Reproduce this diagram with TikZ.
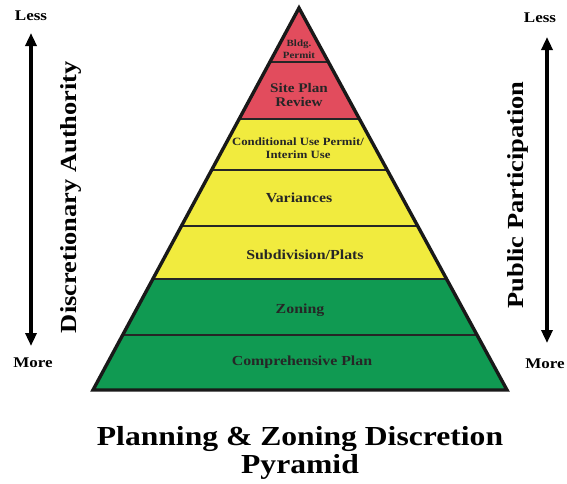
\documentclass[tikz,border=0pt]{standalone}
\usepackage{fontspec}
\setmainfont{Liberation Serif}[FakeStretch=1.15]
\usetikzlibrary{arrows.meta,calc}
\definecolor{pred}{HTML}{E24C5D}
\definecolor{pyel}{HTML}{F1EB3E}
\definecolor{pgrn}{HTML}{109A52}
\newcommand{\fsz}[1]{\fontsize{#1}{#1}\selectfont}
\tikzset{
  lbl/.style={font=\bfseries\fsz{13.8}, align=center, inner sep=0pt, text=black!85},
  side/.style={font=\bfseries\fsz{14.8}, inner sep=0pt},
  vert/.style={font=\bfseries\fsz{23}, rotate=90, inner sep=0pt},
  band/.style={line width=1.2pt, black!85},
  dbl/.style={line width=3.2pt, {Triangle[width=11pt,length=13pt]}-{Triangle[width=11pt,length=13pt]}}
}
\begin{document}
\begin{tikzpicture}[x=1pt,y=-1pt]
\useasboundingbox (0,0) rectangle (567,483);
\coordinate (apex) at (299,8);
\coordinate (bl) at (93,390);
\coordinate (br) at (507,390);
\begin{scope}
  \clip (apex) -- (br) -- (bl) -- cycle;
  \fill[pred] (0,0) rectangle (567,119);
  \fill[pyel] (0,119) rectangle (567,279);
  \fill[pgrn] (0,279) rectangle (567,395);
  \foreach \y in {62,119,170,226,279,335}
    \draw[band] (0,\y) -- (567,\y);
\end{scope}
\draw[line width=3.4pt, line join=miter, black!90] (apex) -- (br) -- (bl) -- cycle;

\node[lbl, font=\bfseries\fontsize{9.5}{12}\selectfont] (bldg) at (299,49) {Bldg.\\Permit};
\node[lbl, font=\bfseries\fontsize{13.2}{14.5}\selectfont] (site) at (299,95) {Site Plan\\Review};
\node[lbl, font=\bfseries\fontsize{11.1}{13}\selectfont] (cup) at (298,148) {Conditional Use Permit/\\Interim Use};
\node[lbl] (var) at (299,198) {Variances};
\node[lbl] (sub) at (305,255) {Subdivision/Plats};
\node[lbl] (zon) at (300,310) {Zoning};
\node[lbl] (comp) at (302,362) {Comprehensive Plan};

\node[side] (lessL) at (31,16) {Less};
\node[side] (moreL) at (33,363) {More};
\coordinate (aLt) at (31,33);
\coordinate (aLb) at (31,346);
\draw[dbl] (aLt) -- (aLb);
\node[vert] (disc) at (71,197) {Discretionary Authority};

\node[side] (lessR) at (540,18) {Less};
\node[side] (moreR) at (545,364) {More};
\coordinate (aRt) at (547,37);
\coordinate (aRb) at (547,343);
\draw[dbl] (aRt) -- (aRb);
\node[vert] (pub) at (518,195) {Public Participation};

\node[font=\bfseries\fontsize{27.5}{28.5}\selectfont, align=center, inner sep=0pt] (title) at (300,453) {Planning \& Zoning Discretion\\Pyramid};
\end{tikzpicture}
\end{document}
